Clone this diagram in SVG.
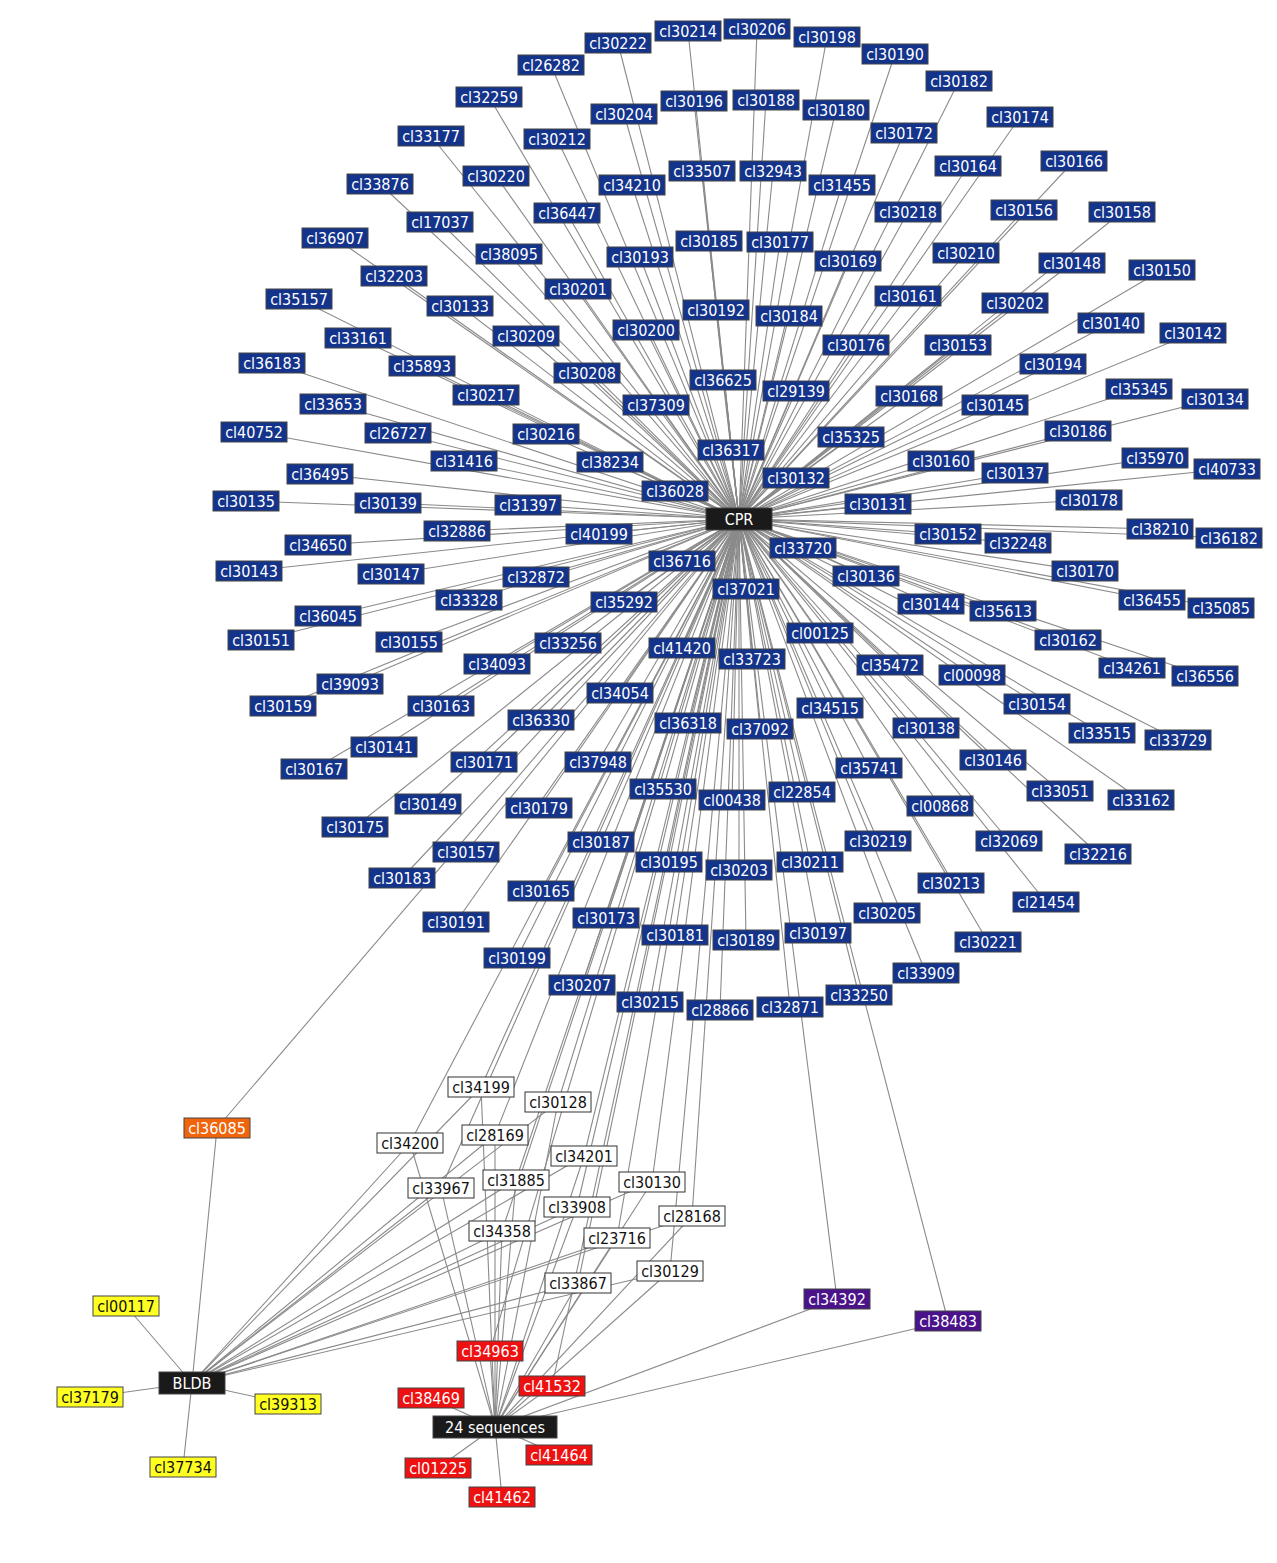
<svg xmlns="http://www.w3.org/2000/svg" width="1277" height="1563" viewBox="0 0 1277 1563">
<style>
.e line{stroke:#8a8a8a;stroke-width:1.1}
g rect{stroke:#444;stroke-width:1}
.b rect{fill:#14348c}
.w rect{fill:#fff;stroke:#333}
.y rect{fill:#ffff22}
.r rect{fill:#ee1111}
.o rect{fill:#f0650c}
.p rect{fill:#4a138a}
.h rect{fill:#1a1a1a}
text{font-family:"DejaVu Sans Condensed","DejaVu Sans",sans-serif;font-size:16px;text-anchor:middle;fill:#fff}
.w text,.y text{fill:#111}
</style>
<rect width="1277" height="1563" fill="#fff"/>
<g class="e" id="connectors">
<line x1="739" y1="519" x2="688" y2="31"/><line x1="739" y1="519" x2="757" y2="29"/><line x1="739" y1="519" x2="827" y2="37"/><line x1="739" y1="519" x2="618" y2="43"/><line x1="739" y1="519" x2="895" y2="54"/><line x1="739" y1="519" x2="551" y2="65"/><line x1="739" y1="519" x2="959" y2="81"/><line x1="739" y1="519" x2="489" y2="97"/><line x1="739" y1="519" x2="694" y2="101"/><line x1="739" y1="519" x2="766" y2="100"/><line x1="739" y1="519" x2="836" y2="110"/><line x1="739" y1="519" x2="624" y2="114"/><line x1="739" y1="519" x2="1020" y2="117"/><line x1="739" y1="519" x2="431" y2="136"/><line x1="739" y1="519" x2="557" y2="139"/><line x1="739" y1="519" x2="904" y2="133"/><line x1="739" y1="519" x2="968" y2="166"/><line x1="739" y1="519" x2="1074" y2="161"/><line x1="739" y1="519" x2="702" y2="171"/><line x1="739" y1="519" x2="773" y2="171"/><line x1="739" y1="519" x2="842" y2="185"/><line x1="739" y1="519" x2="496" y2="176"/><line x1="739" y1="519" x2="380" y2="184"/><line x1="739" y1="519" x2="632" y2="185"/><line x1="739" y1="519" x2="440" y2="222"/><line x1="739" y1="519" x2="567" y2="213"/><line x1="739" y1="519" x2="908" y2="212"/><line x1="739" y1="519" x2="1024" y2="210"/><line x1="739" y1="519" x2="1122" y2="212"/><line x1="739" y1="519" x2="335" y2="238"/><line x1="739" y1="519" x2="509" y2="254"/><line x1="739" y1="519" x2="709" y2="241"/><line x1="739" y1="519" x2="780" y2="242"/><line x1="739" y1="519" x2="640" y2="257"/><line x1="739" y1="519" x2="848" y2="261"/><line x1="739" y1="519" x2="966" y2="253"/><line x1="739" y1="519" x2="1072" y2="263"/><line x1="739" y1="519" x2="1162" y2="270"/><line x1="739" y1="519" x2="394" y2="276"/><line x1="739" y1="519" x2="578" y2="289"/><line x1="739" y1="519" x2="299" y2="299"/><line x1="739" y1="519" x2="460" y2="306"/><line x1="739" y1="519" x2="908" y2="296"/><line x1="739" y1="519" x2="1015" y2="303"/><line x1="739" y1="519" x2="716" y2="310"/><line x1="739" y1="519" x2="789" y2="316"/><line x1="739" y1="519" x2="1111" y2="323"/><line x1="739" y1="519" x2="1193" y2="333"/><line x1="739" y1="519" x2="358" y2="338"/><line x1="739" y1="519" x2="526" y2="336"/><line x1="739" y1="519" x2="646" y2="330"/><line x1="739" y1="519" x2="856" y2="345"/><line x1="739" y1="519" x2="958" y2="345"/><line x1="739" y1="519" x2="272" y2="363"/><line x1="739" y1="519" x2="422" y2="366"/><line x1="739" y1="519" x2="1053" y2="364"/><line x1="739" y1="519" x2="587" y2="373"/><line x1="739" y1="519" x2="723" y2="380"/><line x1="739" y1="519" x2="796" y2="391"/><line x1="739" y1="519" x2="909" y2="396"/><line x1="739" y1="519" x2="1139" y2="389"/><line x1="739" y1="519" x2="1215" y2="399"/><line x1="739" y1="519" x2="333" y2="404"/><line x1="739" y1="519" x2="486" y2="395"/><line x1="739" y1="519" x2="656" y2="405"/><line x1="739" y1="519" x2="995" y2="405"/><line x1="739" y1="519" x2="254" y2="432"/><line x1="739" y1="519" x2="398" y2="433"/><line x1="739" y1="519" x2="546" y2="434"/><line x1="739" y1="519" x2="1078" y2="431"/><line x1="739" y1="519" x2="851" y2="437"/><line x1="739" y1="519" x2="731" y2="450"/><line x1="739" y1="519" x2="464" y2="461"/><line x1="739" y1="519" x2="610" y2="462"/><line x1="739" y1="519" x2="941" y2="461"/><line x1="739" y1="519" x2="1155" y2="458"/><line x1="739" y1="519" x2="1227" y2="469"/><line x1="739" y1="519" x2="320" y2="474"/><line x1="739" y1="519" x2="796" y2="478"/><line x1="739" y1="519" x2="1015" y2="473"/><line x1="739" y1="519" x2="675" y2="491"/><line x1="739" y1="519" x2="246" y2="501"/><line x1="739" y1="519" x2="388" y2="503"/><line x1="739" y1="519" x2="528" y2="505"/><line x1="739" y1="519" x2="878" y2="504"/><line x1="739" y1="519" x2="1089" y2="500"/><line x1="739" y1="519" x2="457" y2="531"/><line x1="739" y1="519" x2="599" y2="534"/><line x1="739" y1="519" x2="948" y2="534"/><line x1="739" y1="519" x2="1018" y2="543"/><line x1="739" y1="519" x2="1160" y2="529"/><line x1="739" y1="519" x2="1229" y2="538"/><line x1="739" y1="519" x2="318" y2="545"/><line x1="739" y1="519" x2="682" y2="561"/><line x1="739" y1="519" x2="803" y2="548"/><line x1="739" y1="519" x2="1085" y2="571"/><line x1="739" y1="519" x2="249" y2="571"/><line x1="739" y1="519" x2="391" y2="574"/><line x1="739" y1="519" x2="536" y2="577"/><line x1="739" y1="519" x2="866" y2="576"/><line x1="739" y1="519" x2="746" y2="589"/><line x1="739" y1="519" x2="1152" y2="600"/><line x1="739" y1="519" x2="1221" y2="608"/><line x1="739" y1="519" x2="328" y2="616"/><line x1="739" y1="519" x2="469" y2="600"/><line x1="739" y1="519" x2="624" y2="602"/><line x1="739" y1="519" x2="931" y2="604"/><line x1="739" y1="519" x2="1003" y2="611"/><line x1="739" y1="519" x2="261" y2="640"/><line x1="739" y1="519" x2="409" y2="642"/><line x1="739" y1="519" x2="568" y2="643"/><line x1="739" y1="519" x2="682" y2="648"/><line x1="739" y1="519" x2="820" y2="633"/><line x1="739" y1="519" x2="1068" y2="640"/><line x1="739" y1="519" x2="752" y2="659"/><line x1="739" y1="519" x2="890" y2="665"/><line x1="739" y1="519" x2="1132" y2="668"/><line x1="739" y1="519" x2="1205" y2="676"/><line x1="739" y1="519" x2="497" y2="664"/><line x1="739" y1="519" x2="972" y2="675"/><line x1="739" y1="519" x2="350" y2="684"/><line x1="739" y1="519" x2="620" y2="693"/><line x1="739" y1="519" x2="1037" y2="704"/><line x1="739" y1="519" x2="283" y2="706"/><line x1="739" y1="519" x2="441" y2="706"/><line x1="739" y1="519" x2="830" y2="708"/><line x1="739" y1="519" x2="1102" y2="733"/><line x1="739" y1="519" x2="1178" y2="740"/><line x1="739" y1="519" x2="541" y2="720"/><line x1="739" y1="519" x2="688" y2="723"/><line x1="739" y1="519" x2="760" y2="729"/><line x1="739" y1="519" x2="926" y2="728"/><line x1="739" y1="519" x2="384" y2="747"/><line x1="739" y1="519" x2="993" y2="760"/><line x1="739" y1="519" x2="314" y2="769"/><line x1="739" y1="519" x2="484" y2="762"/><line x1="739" y1="519" x2="598" y2="762"/><line x1="739" y1="519" x2="869" y2="768"/><line x1="739" y1="519" x2="1060" y2="791"/><line x1="739" y1="519" x2="1141" y2="800"/><line x1="739" y1="519" x2="663" y2="789"/><line x1="739" y1="519" x2="732" y2="800"/><line x1="739" y1="519" x2="802" y2="792"/><line x1="739" y1="519" x2="428" y2="804"/><line x1="739" y1="519" x2="539" y2="808"/><line x1="739" y1="519" x2="940" y2="806"/><line x1="739" y1="519" x2="355" y2="827"/><line x1="739" y1="519" x2="601" y2="842"/><line x1="739" y1="519" x2="878" y2="841"/><line x1="739" y1="519" x2="1009" y2="841"/><line x1="739" y1="519" x2="1098" y2="854"/><line x1="739" y1="519" x2="466" y2="852"/><line x1="739" y1="519" x2="669" y2="862"/><line x1="739" y1="519" x2="739" y2="870"/><line x1="739" y1="519" x2="810" y2="862"/><line x1="739" y1="519" x2="402" y2="878"/><line x1="739" y1="519" x2="951" y2="883"/><line x1="739" y1="519" x2="541" y2="891"/><line x1="739" y1="519" x2="1046" y2="902"/><line x1="739" y1="519" x2="606" y2="918"/><line x1="739" y1="519" x2="887" y2="913"/><line x1="739" y1="519" x2="456" y2="922"/><line x1="739" y1="519" x2="675" y2="935"/><line x1="739" y1="519" x2="746" y2="940"/><line x1="739" y1="519" x2="818" y2="933"/><line x1="739" y1="519" x2="988" y2="942"/><line x1="739" y1="519" x2="517" y2="958"/><line x1="739" y1="519" x2="926" y2="973"/><line x1="739" y1="519" x2="582" y2="985"/><line x1="739" y1="519" x2="650" y2="1002"/><line x1="739" y1="519" x2="720" y2="1010"/><line x1="739" y1="519" x2="790" y2="1007"/><line x1="739" y1="519" x2="859" y2="995"/>
<line x1="739" y1="519" x2="217" y2="1128"/><line x1="217" y1="1128" x2="192" y2="1383"/>
<line x1="739" y1="519" x2="837" y2="1299"/><line x1="837" y1="1299" x2="495" y2="1427"/>
<line x1="739" y1="519" x2="948" y2="1321"/><line x1="948" y1="1321" x2="495" y2="1427"/>
<line x1="739" y1="519" x2="481" y2="1087"/><line x1="481" y1="1087" x2="192" y2="1383"/><line x1="481" y1="1087" x2="495" y2="1427"/>
<line x1="739" y1="519" x2="558" y2="1102"/><line x1="558" y1="1102" x2="192" y2="1383"/><line x1="558" y1="1102" x2="495" y2="1427"/>
<line x1="739" y1="519" x2="410" y2="1143"/><line x1="410" y1="1143" x2="192" y2="1383"/><line x1="410" y1="1143" x2="495" y2="1427"/>
<line x1="739" y1="519" x2="495" y2="1135"/><line x1="495" y1="1135" x2="192" y2="1383"/><line x1="495" y1="1135" x2="495" y2="1427"/>
<line x1="739" y1="519" x2="584" y2="1156"/><line x1="584" y1="1156" x2="192" y2="1383"/><line x1="584" y1="1156" x2="495" y2="1427"/>
<line x1="739" y1="519" x2="441" y2="1188"/><line x1="441" y1="1188" x2="192" y2="1383"/><line x1="441" y1="1188" x2="495" y2="1427"/>
<line x1="739" y1="519" x2="516" y2="1180"/><line x1="516" y1="1180" x2="192" y2="1383"/><line x1="516" y1="1180" x2="495" y2="1427"/>
<line x1="739" y1="519" x2="652" y2="1182"/><line x1="652" y1="1182" x2="192" y2="1383"/><line x1="652" y1="1182" x2="495" y2="1427"/>
<line x1="739" y1="519" x2="577" y2="1207"/><line x1="577" y1="1207" x2="192" y2="1383"/><line x1="577" y1="1207" x2="495" y2="1427"/>
<line x1="739" y1="519" x2="692" y2="1216"/><line x1="692" y1="1216" x2="192" y2="1383"/><line x1="692" y1="1216" x2="495" y2="1427"/>
<line x1="739" y1="519" x2="502" y2="1231"/><line x1="502" y1="1231" x2="192" y2="1383"/><line x1="502" y1="1231" x2="495" y2="1427"/>
<line x1="739" y1="519" x2="617" y2="1238"/><line x1="617" y1="1238" x2="192" y2="1383"/><line x1="617" y1="1238" x2="495" y2="1427"/>
<line x1="739" y1="519" x2="670" y2="1271"/><line x1="670" y1="1271" x2="192" y2="1383"/><line x1="670" y1="1271" x2="495" y2="1427"/>
<line x1="739" y1="519" x2="578" y2="1283"/><line x1="578" y1="1283" x2="192" y2="1383"/><line x1="578" y1="1283" x2="495" y2="1427"/>
<line x1="739" y1="519" x2="490" y2="1351"/><line x1="490" y1="1351" x2="495" y2="1427"/>
<line x1="739" y1="519" x2="552" y2="1386"/><line x1="552" y1="1386" x2="495" y2="1427"/>
<line x1="495" y1="1427" x2="431" y2="1398"/><line x1="495" y1="1427" x2="559" y2="1455"/><line x1="495" y1="1427" x2="438" y2="1468"/><line x1="495" y1="1427" x2="502" y2="1497"/>
<line x1="192" y1="1383" x2="126" y2="1306"/><line x1="192" y1="1383" x2="90" y2="1397"/><line x1="192" y1="1383" x2="288" y2="1404"/><line x1="192" y1="1383" x2="183" y2="1467"/>
</g>
<g class="b">
<g id="n_cl30214"><rect x="655" y="21" width="66" height="20"/><text x="688" y="37">cl30214</text></g>
<g id="n_cl30206"><rect x="724" y="19" width="66" height="20"/><text x="757" y="35">cl30206</text></g>
<g id="n_cl30198"><rect x="794" y="27" width="66" height="20"/><text x="827" y="43">cl30198</text></g>
<g id="n_cl30222"><rect x="585" y="33" width="66" height="20"/><text x="618" y="49">cl30222</text></g>
<g id="n_cl30190"><rect x="862" y="44" width="66" height="20"/><text x="895" y="60">cl30190</text></g>
<g id="n_cl26282"><rect x="518" y="55" width="66" height="20"/><text x="551" y="71">cl26282</text></g>
<g id="n_cl30182"><rect x="926" y="71" width="66" height="20"/><text x="959" y="87">cl30182</text></g>
<g id="n_cl32259"><rect x="456" y="87" width="66" height="20"/><text x="489" y="103">cl32259</text></g>
<g id="n_cl30196"><rect x="661" y="91" width="66" height="20"/><text x="694" y="107">cl30196</text></g>
<g id="n_cl30188"><rect x="733" y="90" width="66" height="20"/><text x="766" y="106">cl30188</text></g>
<g id="n_cl30180"><rect x="803" y="100" width="66" height="20"/><text x="836" y="116">cl30180</text></g>
<g id="n_cl30204"><rect x="591" y="104" width="66" height="20"/><text x="624" y="120">cl30204</text></g>
<g id="n_cl30174"><rect x="987" y="107" width="66" height="20"/><text x="1020" y="123">cl30174</text></g>
<g id="n_cl33177"><rect x="398" y="126" width="66" height="20"/><text x="431" y="142">cl33177</text></g>
<g id="n_cl30212"><rect x="524" y="129" width="66" height="20"/><text x="557" y="145">cl30212</text></g>
<g id="n_cl30172"><rect x="871" y="123" width="66" height="20"/><text x="904" y="139">cl30172</text></g>
<g id="n_cl30164"><rect x="935" y="156" width="66" height="20"/><text x="968" y="172">cl30164</text></g>
<g id="n_cl30166"><rect x="1041" y="151" width="66" height="20"/><text x="1074" y="167">cl30166</text></g>
<g id="n_cl33507"><rect x="669" y="161" width="66" height="20"/><text x="702" y="177">cl33507</text></g>
<g id="n_cl32943"><rect x="740" y="161" width="66" height="20"/><text x="773" y="177">cl32943</text></g>
<g id="n_cl31455"><rect x="809" y="175" width="66" height="20"/><text x="842" y="191">cl31455</text></g>
<g id="n_cl30220"><rect x="463" y="166" width="66" height="20"/><text x="496" y="182">cl30220</text></g>
<g id="n_cl33876"><rect x="347" y="174" width="66" height="20"/><text x="380" y="190">cl33876</text></g>
<g id="n_cl34210"><rect x="599" y="175" width="66" height="20"/><text x="632" y="191">cl34210</text></g>
<g id="n_cl17037"><rect x="407" y="212" width="66" height="20"/><text x="440" y="228">cl17037</text></g>
<g id="n_cl36447"><rect x="534" y="203" width="66" height="20"/><text x="567" y="219">cl36447</text></g>
<g id="n_cl30218"><rect x="875" y="202" width="66" height="20"/><text x="908" y="218">cl30218</text></g>
<g id="n_cl30156"><rect x="991" y="200" width="66" height="20"/><text x="1024" y="216">cl30156</text></g>
<g id="n_cl30158"><rect x="1089" y="202" width="66" height="20"/><text x="1122" y="218">cl30158</text></g>
<g id="n_cl36907"><rect x="302" y="228" width="66" height="20"/><text x="335" y="244">cl36907</text></g>
<g id="n_cl38095"><rect x="476" y="244" width="66" height="20"/><text x="509" y="260">cl38095</text></g>
<g id="n_cl30185"><rect x="676" y="231" width="66" height="20"/><text x="709" y="247">cl30185</text></g>
<g id="n_cl30177"><rect x="747" y="232" width="66" height="20"/><text x="780" y="248">cl30177</text></g>
<g id="n_cl30193"><rect x="607" y="247" width="66" height="20"/><text x="640" y="263">cl30193</text></g>
<g id="n_cl30169"><rect x="815" y="251" width="66" height="20"/><text x="848" y="267">cl30169</text></g>
<g id="n_cl30210"><rect x="933" y="243" width="66" height="20"/><text x="966" y="259">cl30210</text></g>
<g id="n_cl30148"><rect x="1039" y="253" width="66" height="20"/><text x="1072" y="269">cl30148</text></g>
<g id="n_cl30150"><rect x="1129" y="260" width="66" height="20"/><text x="1162" y="276">cl30150</text></g>
<g id="n_cl32203"><rect x="361" y="266" width="66" height="20"/><text x="394" y="282">cl32203</text></g>
<g id="n_cl30201"><rect x="545" y="279" width="66" height="20"/><text x="578" y="295">cl30201</text></g>
<g id="n_cl35157"><rect x="266" y="289" width="66" height="20"/><text x="299" y="305">cl35157</text></g>
<g id="n_cl30133"><rect x="427" y="296" width="66" height="20"/><text x="460" y="312">cl30133</text></g>
<g id="n_cl30161"><rect x="875" y="286" width="66" height="20"/><text x="908" y="302">cl30161</text></g>
<g id="n_cl30202"><rect x="982" y="293" width="66" height="20"/><text x="1015" y="309">cl30202</text></g>
<g id="n_cl30192"><rect x="683" y="300" width="66" height="20"/><text x="716" y="316">cl30192</text></g>
<g id="n_cl30184"><rect x="756" y="306" width="66" height="20"/><text x="789" y="322">cl30184</text></g>
<g id="n_cl30140"><rect x="1078" y="313" width="66" height="20"/><text x="1111" y="329">cl30140</text></g>
<g id="n_cl30142"><rect x="1160" y="323" width="66" height="20"/><text x="1193" y="339">cl30142</text></g>
<g id="n_cl33161"><rect x="325" y="328" width="66" height="20"/><text x="358" y="344">cl33161</text></g>
<g id="n_cl30209"><rect x="493" y="326" width="66" height="20"/><text x="526" y="342">cl30209</text></g>
<g id="n_cl30200"><rect x="613" y="320" width="66" height="20"/><text x="646" y="336">cl30200</text></g>
<g id="n_cl30176"><rect x="823" y="335" width="66" height="20"/><text x="856" y="351">cl30176</text></g>
<g id="n_cl30153"><rect x="925" y="335" width="66" height="20"/><text x="958" y="351">cl30153</text></g>
<g id="n_cl36183"><rect x="239" y="353" width="66" height="20"/><text x="272" y="369">cl36183</text></g>
<g id="n_cl35893"><rect x="389" y="356" width="66" height="20"/><text x="422" y="372">cl35893</text></g>
<g id="n_cl30194"><rect x="1020" y="354" width="66" height="20"/><text x="1053" y="370">cl30194</text></g>
<g id="n_cl30208"><rect x="554" y="363" width="66" height="20"/><text x="587" y="379">cl30208</text></g>
<g id="n_cl36625"><rect x="690" y="370" width="66" height="20"/><text x="723" y="386">cl36625</text></g>
<g id="n_cl29139"><rect x="763" y="381" width="66" height="20"/><text x="796" y="397">cl29139</text></g>
<g id="n_cl30168"><rect x="876" y="386" width="66" height="20"/><text x="909" y="402">cl30168</text></g>
<g id="n_cl35345"><rect x="1106" y="379" width="66" height="20"/><text x="1139" y="395">cl35345</text></g>
<g id="n_cl30134"><rect x="1182" y="389" width="66" height="20"/><text x="1215" y="405">cl30134</text></g>
<g id="n_cl33653"><rect x="300" y="394" width="66" height="20"/><text x="333" y="410">cl33653</text></g>
<g id="n_cl30217"><rect x="453" y="385" width="66" height="20"/><text x="486" y="401">cl30217</text></g>
<g id="n_cl37309"><rect x="623" y="395" width="66" height="20"/><text x="656" y="411">cl37309</text></g>
<g id="n_cl30145"><rect x="962" y="395" width="66" height="20"/><text x="995" y="411">cl30145</text></g>
<g id="n_cl40752"><rect x="221" y="422" width="66" height="20"/><text x="254" y="438">cl40752</text></g>
<g id="n_cl26727"><rect x="365" y="423" width="66" height="20"/><text x="398" y="439">cl26727</text></g>
<g id="n_cl30216"><rect x="513" y="424" width="66" height="20"/><text x="546" y="440">cl30216</text></g>
<g id="n_cl30186"><rect x="1045" y="421" width="66" height="20"/><text x="1078" y="437">cl30186</text></g>
<g id="n_cl35325"><rect x="818" y="427" width="66" height="20"/><text x="851" y="443">cl35325</text></g>
<g id="n_cl36317"><rect x="698" y="440" width="66" height="20"/><text x="731" y="456">cl36317</text></g>
<g id="n_cl31416"><rect x="431" y="451" width="66" height="20"/><text x="464" y="467">cl31416</text></g>
<g id="n_cl38234"><rect x="577" y="452" width="66" height="20"/><text x="610" y="468">cl38234</text></g>
<g id="n_cl30160"><rect x="908" y="451" width="66" height="20"/><text x="941" y="467">cl30160</text></g>
<g id="n_cl35970"><rect x="1122" y="448" width="66" height="20"/><text x="1155" y="464">cl35970</text></g>
<g id="n_cl40733"><rect x="1194" y="459" width="66" height="20"/><text x="1227" y="475">cl40733</text></g>
<g id="n_cl36495"><rect x="287" y="464" width="66" height="20"/><text x="320" y="480">cl36495</text></g>
<g id="n_cl30132"><rect x="763" y="468" width="66" height="20"/><text x="796" y="484">cl30132</text></g>
<g id="n_cl30137"><rect x="982" y="463" width="66" height="20"/><text x="1015" y="479">cl30137</text></g>
<g id="n_cl36028"><rect x="642" y="481" width="66" height="20"/><text x="675" y="497">cl36028</text></g>
<g id="n_cl30135"><rect x="213" y="491" width="66" height="20"/><text x="246" y="507">cl30135</text></g>
<g id="n_cl30139"><rect x="355" y="493" width="66" height="20"/><text x="388" y="509">cl30139</text></g>
<g id="n_cl31397"><rect x="495" y="495" width="66" height="20"/><text x="528" y="511">cl31397</text></g>
<g id="n_cl30131"><rect x="845" y="494" width="66" height="20"/><text x="878" y="510">cl30131</text></g>
<g id="n_cl30178"><rect x="1056" y="490" width="66" height="20"/><text x="1089" y="506">cl30178</text></g>
<g id="n_cl32886"><rect x="424" y="521" width="66" height="20"/><text x="457" y="537">cl32886</text></g>
<g id="n_cl40199"><rect x="566" y="524" width="66" height="20"/><text x="599" y="540">cl40199</text></g>
<g id="n_cl30152"><rect x="915" y="524" width="66" height="20"/><text x="948" y="540">cl30152</text></g>
<g id="n_cl32248"><rect x="985" y="533" width="66" height="20"/><text x="1018" y="549">cl32248</text></g>
<g id="n_cl38210"><rect x="1127" y="519" width="66" height="20"/><text x="1160" y="535">cl38210</text></g>
<g id="n_cl36182"><rect x="1196" y="528" width="66" height="20"/><text x="1229" y="544">cl36182</text></g>
<g id="n_cl34650"><rect x="285" y="535" width="66" height="20"/><text x="318" y="551">cl34650</text></g>
<g id="n_cl36716"><rect x="649" y="551" width="66" height="20"/><text x="682" y="567">cl36716</text></g>
<g id="n_cl33720"><rect x="770" y="538" width="66" height="20"/><text x="803" y="554">cl33720</text></g>
<g id="n_cl30170"><rect x="1052" y="561" width="66" height="20"/><text x="1085" y="577">cl30170</text></g>
<g id="n_cl30143"><rect x="216" y="561" width="66" height="20"/><text x="249" y="577">cl30143</text></g>
<g id="n_cl30147"><rect x="358" y="564" width="66" height="20"/><text x="391" y="580">cl30147</text></g>
<g id="n_cl32872"><rect x="503" y="567" width="66" height="20"/><text x="536" y="583">cl32872</text></g>
<g id="n_cl30136"><rect x="833" y="566" width="66" height="20"/><text x="866" y="582">cl30136</text></g>
<g id="n_cl37021"><rect x="713" y="579" width="66" height="20"/><text x="746" y="595">cl37021</text></g>
<g id="n_cl36455"><rect x="1119" y="590" width="66" height="20"/><text x="1152" y="606">cl36455</text></g>
<g id="n_cl35085"><rect x="1188" y="598" width="66" height="20"/><text x="1221" y="614">cl35085</text></g>
<g id="n_cl36045"><rect x="295" y="606" width="66" height="20"/><text x="328" y="622">cl36045</text></g>
<g id="n_cl33328"><rect x="436" y="590" width="66" height="20"/><text x="469" y="606">cl33328</text></g>
<g id="n_cl35292"><rect x="591" y="592" width="66" height="20"/><text x="624" y="608">cl35292</text></g>
<g id="n_cl30144"><rect x="898" y="594" width="66" height="20"/><text x="931" y="610">cl30144</text></g>
<g id="n_cl35613"><rect x="970" y="601" width="66" height="20"/><text x="1003" y="617">cl35613</text></g>
<g id="n_cl30151"><rect x="228" y="630" width="66" height="20"/><text x="261" y="646">cl30151</text></g>
<g id="n_cl30155"><rect x="376" y="632" width="66" height="20"/><text x="409" y="648">cl30155</text></g>
<g id="n_cl33256"><rect x="535" y="633" width="66" height="20"/><text x="568" y="649">cl33256</text></g>
<g id="n_cl41420"><rect x="649" y="638" width="66" height="20"/><text x="682" y="654">cl41420</text></g>
<g id="n_cl00125"><rect x="787" y="623" width="66" height="20"/><text x="820" y="639">cl00125</text></g>
<g id="n_cl30162"><rect x="1035" y="630" width="66" height="20"/><text x="1068" y="646">cl30162</text></g>
<g id="n_cl33723"><rect x="719" y="649" width="66" height="20"/><text x="752" y="665">cl33723</text></g>
<g id="n_cl35472"><rect x="857" y="655" width="66" height="20"/><text x="890" y="671">cl35472</text></g>
<g id="n_cl34261"><rect x="1099" y="658" width="66" height="20"/><text x="1132" y="674">cl34261</text></g>
<g id="n_cl36556"><rect x="1172" y="666" width="66" height="20"/><text x="1205" y="682">cl36556</text></g>
<g id="n_cl34093"><rect x="464" y="654" width="66" height="20"/><text x="497" y="670">cl34093</text></g>
<g id="n_cl00098"><rect x="939" y="665" width="66" height="20"/><text x="972" y="681">cl00098</text></g>
<g id="n_cl39093"><rect x="317" y="674" width="66" height="20"/><text x="350" y="690">cl39093</text></g>
<g id="n_cl34054"><rect x="587" y="683" width="66" height="20"/><text x="620" y="699">cl34054</text></g>
<g id="n_cl30154"><rect x="1004" y="694" width="66" height="20"/><text x="1037" y="710">cl30154</text></g>
<g id="n_cl30159"><rect x="250" y="696" width="66" height="20"/><text x="283" y="712">cl30159</text></g>
<g id="n_cl30163"><rect x="408" y="696" width="66" height="20"/><text x="441" y="712">cl30163</text></g>
<g id="n_cl34515"><rect x="797" y="698" width="66" height="20"/><text x="830" y="714">cl34515</text></g>
<g id="n_cl33515"><rect x="1069" y="723" width="66" height="20"/><text x="1102" y="739">cl33515</text></g>
<g id="n_cl33729"><rect x="1145" y="730" width="66" height="20"/><text x="1178" y="746">cl33729</text></g>
<g id="n_cl36330"><rect x="508" y="710" width="66" height="20"/><text x="541" y="726">cl36330</text></g>
<g id="n_cl36318"><rect x="655" y="713" width="66" height="20"/><text x="688" y="729">cl36318</text></g>
<g id="n_cl37092"><rect x="727" y="719" width="66" height="20"/><text x="760" y="735">cl37092</text></g>
<g id="n_cl30138"><rect x="893" y="718" width="66" height="20"/><text x="926" y="734">cl30138</text></g>
<g id="n_cl30141"><rect x="351" y="737" width="66" height="20"/><text x="384" y="753">cl30141</text></g>
<g id="n_cl30146"><rect x="960" y="750" width="66" height="20"/><text x="993" y="766">cl30146</text></g>
<g id="n_cl30167"><rect x="281" y="759" width="66" height="20"/><text x="314" y="775">cl30167</text></g>
<g id="n_cl30171"><rect x="451" y="752" width="66" height="20"/><text x="484" y="768">cl30171</text></g>
<g id="n_cl37948"><rect x="565" y="752" width="66" height="20"/><text x="598" y="768">cl37948</text></g>
<g id="n_cl35741"><rect x="836" y="758" width="66" height="20"/><text x="869" y="774">cl35741</text></g>
<g id="n_cl33051"><rect x="1027" y="781" width="66" height="20"/><text x="1060" y="797">cl33051</text></g>
<g id="n_cl33162"><rect x="1108" y="790" width="66" height="20"/><text x="1141" y="806">cl33162</text></g>
<g id="n_cl35530"><rect x="630" y="779" width="66" height="20"/><text x="663" y="795">cl35530</text></g>
<g id="n_cl00438"><rect x="699" y="790" width="66" height="20"/><text x="732" y="806">cl00438</text></g>
<g id="n_cl22854"><rect x="769" y="782" width="66" height="20"/><text x="802" y="798">cl22854</text></g>
<g id="n_cl30149"><rect x="395" y="794" width="66" height="20"/><text x="428" y="810">cl30149</text></g>
<g id="n_cl30179"><rect x="506" y="798" width="66" height="20"/><text x="539" y="814">cl30179</text></g>
<g id="n_cl00868"><rect x="907" y="796" width="66" height="20"/><text x="940" y="812">cl00868</text></g>
<g id="n_cl30175"><rect x="322" y="817" width="66" height="20"/><text x="355" y="833">cl30175</text></g>
<g id="n_cl30187"><rect x="568" y="832" width="66" height="20"/><text x="601" y="848">cl30187</text></g>
<g id="n_cl30219"><rect x="845" y="831" width="66" height="20"/><text x="878" y="847">cl30219</text></g>
<g id="n_cl32069"><rect x="976" y="831" width="66" height="20"/><text x="1009" y="847">cl32069</text></g>
<g id="n_cl32216"><rect x="1065" y="844" width="66" height="20"/><text x="1098" y="860">cl32216</text></g>
<g id="n_cl30157"><rect x="433" y="842" width="66" height="20"/><text x="466" y="858">cl30157</text></g>
<g id="n_cl30195"><rect x="636" y="852" width="66" height="20"/><text x="669" y="868">cl30195</text></g>
<g id="n_cl30203"><rect x="706" y="860" width="66" height="20"/><text x="739" y="876">cl30203</text></g>
<g id="n_cl30211"><rect x="777" y="852" width="66" height="20"/><text x="810" y="868">cl30211</text></g>
<g id="n_cl30183"><rect x="369" y="868" width="66" height="20"/><text x="402" y="884">cl30183</text></g>
<g id="n_cl30213"><rect x="918" y="873" width="66" height="20"/><text x="951" y="889">cl30213</text></g>
<g id="n_cl30165"><rect x="508" y="881" width="66" height="20"/><text x="541" y="897">cl30165</text></g>
<g id="n_cl21454"><rect x="1013" y="892" width="66" height="20"/><text x="1046" y="908">cl21454</text></g>
<g id="n_cl30173"><rect x="573" y="908" width="66" height="20"/><text x="606" y="924">cl30173</text></g>
<g id="n_cl30205"><rect x="854" y="903" width="66" height="20"/><text x="887" y="919">cl30205</text></g>
<g id="n_cl30191"><rect x="423" y="912" width="66" height="20"/><text x="456" y="928">cl30191</text></g>
<g id="n_cl30181"><rect x="642" y="925" width="66" height="20"/><text x="675" y="941">cl30181</text></g>
<g id="n_cl30189"><rect x="713" y="930" width="66" height="20"/><text x="746" y="946">cl30189</text></g>
<g id="n_cl30197"><rect x="785" y="923" width="66" height="20"/><text x="818" y="939">cl30197</text></g>
<g id="n_cl30221"><rect x="955" y="932" width="66" height="20"/><text x="988" y="948">cl30221</text></g>
<g id="n_cl30199"><rect x="484" y="948" width="66" height="20"/><text x="517" y="964">cl30199</text></g>
<g id="n_cl33909"><rect x="893" y="963" width="66" height="20"/><text x="926" y="979">cl33909</text></g>
<g id="n_cl30207"><rect x="549" y="975" width="66" height="20"/><text x="582" y="991">cl30207</text></g>
<g id="n_cl30215"><rect x="617" y="992" width="66" height="20"/><text x="650" y="1008">cl30215</text></g>
<g id="n_cl28866"><rect x="687" y="1000" width="66" height="20"/><text x="720" y="1016">cl28866</text></g>
<g id="n_cl32871"><rect x="757" y="997" width="66" height="20"/><text x="790" y="1013">cl32871</text></g>
<g id="n_cl33250"><rect x="826" y="985" width="66" height="20"/><text x="859" y="1001">cl33250</text></g>
</g>
<g class="w">
<g id="n_cl34199"><rect x="448" y="1077" width="66" height="20"/><text x="481" y="1093">cl34199</text></g>
<g id="n_cl30128"><rect x="525" y="1092" width="66" height="20"/><text x="558" y="1108">cl30128</text></g>
<g id="n_cl34200"><rect x="377" y="1133" width="66" height="20"/><text x="410" y="1149">cl34200</text></g>
<g id="n_cl28169"><rect x="462" y="1125" width="66" height="20"/><text x="495" y="1141">cl28169</text></g>
<g id="n_cl34201"><rect x="551" y="1146" width="66" height="20"/><text x="584" y="1162">cl34201</text></g>
<g id="n_cl33967"><rect x="408" y="1178" width="66" height="20"/><text x="441" y="1194">cl33967</text></g>
<g id="n_cl31885"><rect x="483" y="1170" width="66" height="20"/><text x="516" y="1186">cl31885</text></g>
<g id="n_cl30130"><rect x="619" y="1172" width="66" height="20"/><text x="652" y="1188">cl30130</text></g>
<g id="n_cl33908"><rect x="544" y="1197" width="66" height="20"/><text x="577" y="1213">cl33908</text></g>
<g id="n_cl28168"><rect x="659" y="1206" width="66" height="20"/><text x="692" y="1222">cl28168</text></g>
<g id="n_cl34358"><rect x="469" y="1221" width="66" height="20"/><text x="502" y="1237">cl34358</text></g>
<g id="n_cl23716"><rect x="584" y="1228" width="66" height="20"/><text x="617" y="1244">cl23716</text></g>
<g id="n_cl30129"><rect x="637" y="1261" width="66" height="20"/><text x="670" y="1277">cl30129</text></g>
<g id="n_cl33867"><rect x="545" y="1273" width="66" height="20"/><text x="578" y="1289">cl33867</text></g>
</g>
<g class="o" id="n_cl36085"><rect x="184" y="1118" width="66" height="20"/><text x="217" y="1134">cl36085</text></g>
<g class="p" id="n_cl34392"><rect x="804" y="1289" width="66" height="20"/><text x="837" y="1305">cl34392</text></g>
<g class="p" id="n_cl38483"><rect x="915" y="1311" width="66" height="20"/><text x="948" y="1327">cl38483</text></g>
<g class="y">
<g id="n_cl00117"><rect x="93" y="1296" width="66" height="20"/><text x="126" y="1312">cl00117</text></g>
<g id="n_cl37179"><rect x="57" y="1387" width="66" height="20"/><text x="90" y="1403">cl37179</text></g>
<g id="n_cl39313"><rect x="255" y="1394" width="66" height="20"/><text x="288" y="1410">cl39313</text></g>
<g id="n_cl37734"><rect x="150" y="1457" width="66" height="20"/><text x="183" y="1473">cl37734</text></g>
</g>
<g class="r">
<g id="n_cl34963"><rect x="457" y="1341" width="66" height="20"/><text x="490" y="1357">cl34963</text></g>
<g id="n_cl41532"><rect x="519" y="1376" width="66" height="20"/><text x="552" y="1392">cl41532</text></g>
<g id="n_cl38469"><rect x="398" y="1388" width="66" height="20"/><text x="431" y="1404">cl38469</text></g>
<g id="n_cl41464"><rect x="526" y="1445" width="66" height="20"/><text x="559" y="1461">cl41464</text></g>
<g id="n_cl01225"><rect x="405" y="1458" width="66" height="20"/><text x="438" y="1474">cl01225</text></g>
<g id="n_cl41462"><rect x="469" y="1487" width="66" height="20"/><text x="502" y="1503">cl41462</text></g>
</g>
<g class="h">
<g id="n_CPR"><rect x="706" y="508" width="66" height="22"/><text x="739" y="525">CPR</text></g>
<g id="n_BLDB"><rect x="159" y="1372" width="66" height="22"/><text x="192" y="1389">BLDB</text></g>
<g id="n_24seq"><rect x="433" y="1416" width="124" height="22"/><text x="495" y="1433">24 sequences</text></g>
</g>
</svg>
